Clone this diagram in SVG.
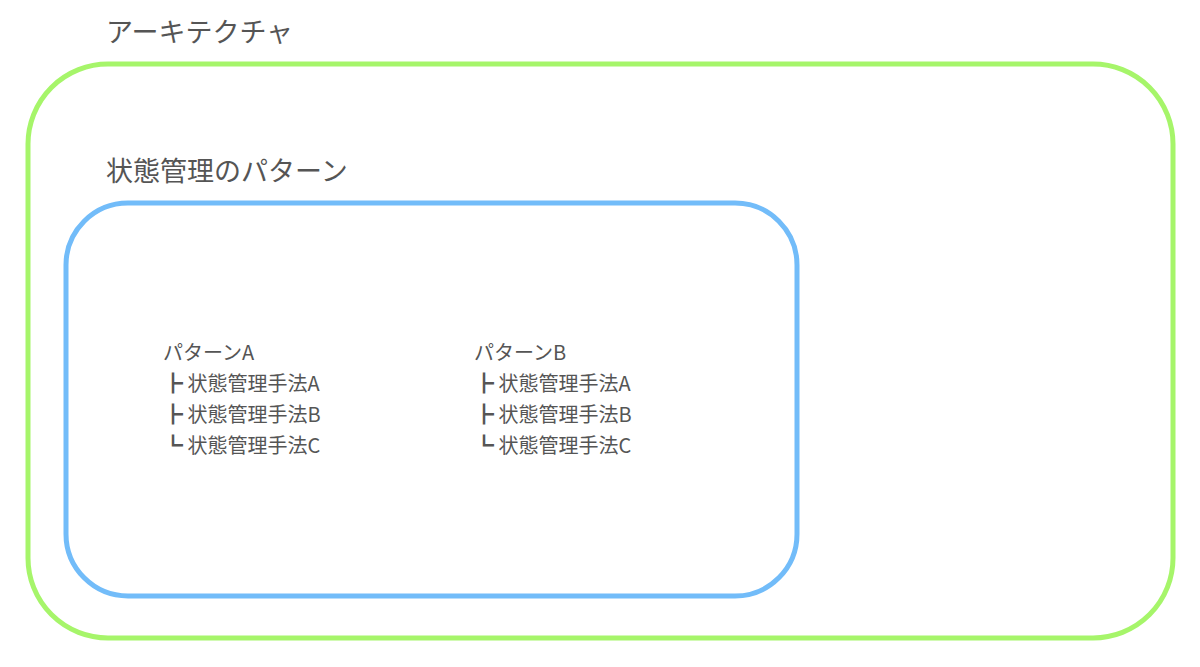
<svg xmlns="http://www.w3.org/2000/svg" width="1200" height="667" viewBox="0 0 1200 667">
<style>
text{font-family:"Noto Sans CJK JP","Liberation Sans",sans-serif;fill:#555}
.t{font-size:27px}
.l{font-size:20px}
</style>
<rect width="1200" height="667" fill="#fff"/>
<g id="arch">
<rect x="28" y="64" width="1145" height="574" rx="80" fill="none" stroke="#a6f56a" stroke-width="5"/>
<text class="t" x="106" y="42">アーキテクチャ</text>
</g>
<g id="state">
<rect x="66" y="203" width="731" height="393" rx="62" fill="none" stroke="#72bcf9" stroke-width="5"/>
<text class="t" x="106" y="181">状態管理のパターン</text>
</g>
<g id="patA">
<text class="l" x="163" y="360">パターンA</text>
<text class="l" x="163" y="391">┣ 状態管理手法A</text>
<text class="l" x="163" y="422">┣ 状態管理手法B</text>
<text class="l" x="163" y="453">┗ 状態管理手法C</text>
</g>
<g id="patB">
<text class="l" x="474" y="360">パターンB</text>
<text class="l" x="474" y="391">┣ 状態管理手法A</text>
<text class="l" x="474" y="422">┣ 状態管理手法B</text>
<text class="l" x="474" y="453">┗ 状態管理手法C</text>
</g>
<g id="connectors"/>
</svg>
